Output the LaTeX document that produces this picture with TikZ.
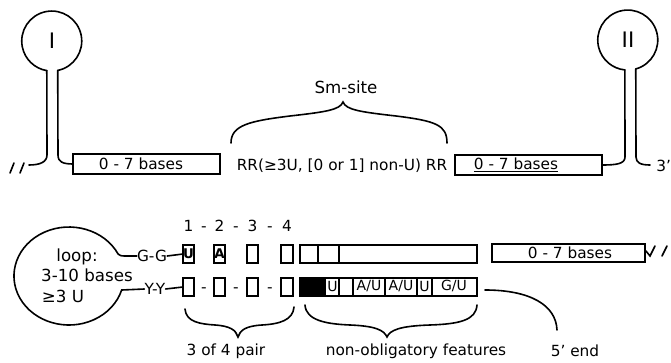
\documentclass[tikz,border=0pt]{standalone}
\usepackage{fontspec}
\setmainfont{DejaVu Sans}
\usetikzlibrary{fit,shapes.geometric}
\begin{document}
\begin{tikzpicture}[x=0.75pt,y=-0.75pt,
  ln/.style={line width=1.2pt, line cap=round},
  bx/.style={draw, line width=1.2pt, inner sep=0pt, outer sep=0pt},
  lab/.style={inner sep=0pt, font=\fontsize{11.5}{13}\selectfont},
  big/.style={inner sep=0pt, font=\fontsize{12.5}{14}\selectfont},
  ctxt/.style={inner sep=0pt, font=\fontsize{10.5}{12}\selectfont},
  btxt/.style={inner sep=0pt, font=\fontsize{10}{11}\selectfont\bfseries},
  circ/.style={circle, minimum size=45pt, inner sep=0pt, outer sep=0pt, font=\fontsize{16}{18}\selectfont},
]
\useasboundingbox (0,0) rectangle (671,363);

% ---------- top: stem-loop I ----------
\node[circ] (cI) at (52,41) {I};
\draw[ln] (cI.281.5) arc[start angle=78.5, end angle=-260.4, radius=30];
\node[bx, fit={(73,154)(220,174)}] (b1) {};
\node[lab] (b1t) at (141,164) {0 - 7 bases};
\coordinate (brkI) at (29,165);
\draw[ln] (cI.260.4) -- (47,155) .. controls (47,162) and (40,165) .. (brkI);
\draw[ln] (cI.281.5) -- (58,155) .. controls (58,162) and (63,164) .. (b1.west);
\draw[ln] (10,173) -- (14,163) (20,173) -- (24,163);

% ---------- Sm-site ----------
\node[big] (sm) at (346,87) {Sm-site};
\draw[ln] (231,143) .. controls (231,125) and (250,121) .. (290,116) .. controls (325,112) and (340,110) .. (343,102)
  .. controls (346,110) and (361,112) .. (396,116) .. controls (436,121) and (447,125) .. (447,143);
\node[lab] (rr) at (342,166) {RR(≥3U, [0 or 1] non-U) RR};

% ---------- top: stem-loop II ----------
\node[bx, fit={(455,155)(602,175)}] (b2) {};
\node[lab] (b2t) at (516,165) {\underline{0 - 7 bases}};
\node[circ] (cII) at (628,40) {II};
\draw[ln] (cII.285.47) arc[start angle=74.53, end angle=-264.26, radius=30];
\draw[ln] (cII.264.26) -- (625,157) .. controls (625,164) and (616,165) .. (b2.east);
\coordinate (end3) at (650,165);
\draw[ln] (cII.285.47) -- (636,157) .. controls (636,163) and (641,165) .. (end3);
\node[lab, anchor=west] (three) at (656,166) {3'};

% ---------- bottom: loop ----------
\node[inner sep=0pt, minimum width=82.5pt, minimum height=73.5pt] (loop) at (69,276) {};
\node[big] (lp1) at (77,257) {loop:};
\node[big] (lp2) at (87,275) {3-10 bases};
\node[big] (lp3) at (63,296) {≥3 U};
\node[lab] (gg) at (152,256) {G-G};
\node[lab] (yy) at (155,289) {Y-Y};
\draw[ln] (gg.west) -- (125,256) .. controls (121,256) and (119.5,255.5) .. (118.1,254)
  arc[start angle=-26.7, end angle=-343.4, x radius=55, y radius=49] -- (yy.west);

% numbers
\foreach \x/\t in {188.5/1, 219.5/2, 252.5/3, 287/4} \node[lab, anchor=base] (num\t) at (\x,232) {\t};
\foreach \x/\t in {204/a, 236/b, 270/c} \node[lab, anchor=base] (nd\t) at (\x,232) {-};

% top row
\node[bx, fit={(183,245)(194,263)}] (t1) {};
\node[bx, fit={(214,245)(225,263)}] (t2) {};
\node[btxt] at (t1.center) {U};
\node[btxt] at (t2.center) {A};
\node[bx, fit={(247,245)(258,263)}] (t3) {};
\node[bx, fit={(281,245)(293,263)}] (t4) {};
\node[bx, fit={(300,245)(477,263)}] (tl) {};
\draw[line width=1.2pt] (318,245) -- (318,263) (339,245) -- (339,263);
\draw[ln] (gg.east) -- (t1.west);

% lower right box
\node[bx, fit={(492,244)(645,262)}] (b3) {};
\node[lab] (b3t) at (570,253) {0 - 7 bases};
\draw[ln] (646,251) -- (650,256) -- (655,246);
\draw[ln] (662,256) -- (667,246);

% bottom row
\node[bx, fit={(183,278)(194,296)}] (l1) {};
\node[bx, fit={(214,278)(225,296)}] (l2) {};
\node[bx, fit={(247,278)(258,296)}] (l3) {};
\node[bx, fit={(281,278)(293,296)}] (l4) {};
\foreach \x/\t in {204/a, 236/b, 270/c} \node[lab, anchor=base] (bd\t) at (\x,292) {-};
\draw[ln] (yy.east) -- (l1.west);
\node[bx, fit={(300,278)(477,296)}] (bl) {};
\fill (300,278) rectangle (326,296);
\draw[line width=1.2pt] (339,278) -- (339,296) (353,278) -- (353,296) (385,278) -- (385,296)
  (417,278) -- (417,296) (432,278) -- (432,296);
\node[ctxt] (c1) at (332.5,286) {U};
\node[ctxt] (c2) at (369,286) {A/U};
\node[ctxt] (c3) at (401,286) {A/U};
\node[ctxt] (c4) at (424.5,286) {U};
\node[ctxt] (c5) at (454,286) {G/U};

% braces and labels
\draw[ln] (185,309) .. controls (186,322) and (200,324) .. (215,325) .. controls (230,326) and (236,330) .. (238,337)
  .. controls (240,330) and (246,326) .. (262,325) .. controls (280,324) and (293,320) .. (294,307);
\node[lab] (pair) at (226,351) {3 of 4 pair};
\draw[ln] (305,305) .. controls (306,320) and (325,324) .. (350,325) .. controls (375,326) and (384,330) .. (387,337)
  .. controls (390,330) and (400,326) .. (430,325) .. controls (460,324) and (476,320) .. (477,305);
\node[lab] (nof) at (416,351) {non-obligatory features};
\coordinate (e5a) at (485,290);
\coordinate (e5b) at (557,330);
\draw[ln] (e5a) .. controls (530,290) and (556,305) .. (e5b);
\node[lab] (five) at (575,351) {5' end};
\end{tikzpicture}
\end{document}
